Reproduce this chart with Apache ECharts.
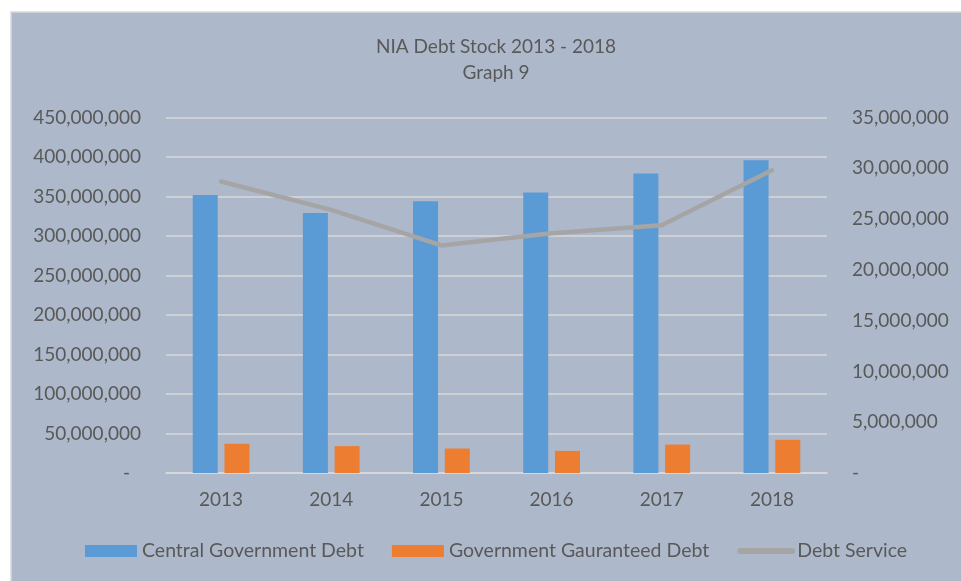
<!DOCTYPE html>
<html>
<head>
<meta charset="utf-8">
<script src="https://cdn.jsdelivr.net/npm/echarts@6/dist/echarts.min.js"></script>
<style>
  html, body { margin: 0; padding: 0; background: #ffffff; }
  #chart { width: 961px; height: 581px; }
</style>
</head>
<body>
<div id="chart"></div>
<script>
// NIA debt stock, 2013 - 2018
const years = ['2013', '2014', '2015', '2016', '2017', '2018'];
const centralGovernmentDebt = [352000000, 329000000, 344000000, 355000000, 379000000, 396000000];
const governmentGuaranteedDebt = [37000000, 34000000, 31000000, 28000000, 36000000, 42000000];
const debtService = [28700000, 25900000, 22400000, 23600000, 24400000, 29800000];

const FONT = 'Lato';
const TEXT = '#595959';

function fmt(v) {
  return v === 0 ? '{z|-}' : Math.round(v).toLocaleString('en-US');
}

const chart = echarts.init(document.getElementById('chart'), null, { renderer: 'canvas' });

chart.setOption({
  animation: false,
  textStyle: { fontFamily: FONT },
  graphic: [{
    type: 'rect',
    z: -10,
    silent: true,
    shape: { x: 11, y: 12, width: 960, height: 580 },
    style: { fill: '#ADB9CA', stroke: '#D9D9D9', lineWidth: 1.5 }
  }],
  title: {
    text: 'NIA Debt Stock 2013 - 2018\nGraph 9',
    left: 491,
    top: 29,
    textAlign: 'center',
    textStyle: { fontFamily: FONT, fontSize: 19, fontWeight: 'normal', color: TEXT, lineHeight: 26 }
  },
  legend: {
    left: 85,
    top: 541,
    padding: 0,
    itemWidth: 52,
    itemHeight: 12,
    itemGap: 28,
    textStyle: { fontFamily: FONT, fontSize: 19.5, color: TEXT },
    lineStyle: { width: 6, cap: 'round' },
    data: [
      { name: 'Central Government Debt', icon: 'rect' },
      { name: 'Government Gauranteed Debt', icon: 'rect' },
      { name: 'Debt Service', itemStyle: { opacity: 0 } }
    ]
  },
  grid: { left: 166, right: 134, top: 117.5, bottom: 108, containLabel: false },
  xAxis: {
    type: 'category',
    data: years,
    axisTick: { show: false },
    axisLine: { lineStyle: { color: '#D9D9D9', width: 1.5 } },
    axisLabel: { color: TEXT, fontFamily: FONT, fontSize: 19, margin: 17 }
  },
  yAxis: [{
    type: 'value',
    min: 0,
    max: 450000000,
    interval: 50000000,
    axisLine: { show: false },
    axisTick: { show: false },
    splitLine: { lineStyle: { color: '#D9D9D9', width: 1.5 } },
    axisLabel: {
      color: TEXT, fontFamily: FONT, fontSize: 19, margin: 25,
      formatter: fmt,
      rich: { z: { color: TEXT, fontFamily: FONT, fontSize: 19, padding: [0, 11, 0, 0] } }
    }
  }, {
    type: 'value',
    min: 0,
    max: 35000000,
    interval: 5000000,
    axisLine: { show: false },
    axisTick: { show: false },
    splitLine: { show: false },
    axisLabel: {
      color: TEXT, fontFamily: FONT, fontSize: 19, margin: 25,
      formatter: fmt,
      rich: { z: { color: TEXT, fontFamily: FONT, fontSize: 19 } }
    }
  }],
  series: [{
    name: 'Central Government Debt',
    type: 'bar',
    data: centralGovernmentDebt,
    barWidth: 25,
    barGap: '27%',
    itemStyle: { color: '#5B9BD5' }
  }, {
    name: 'Government Gauranteed Debt',
    type: 'bar',
    data: governmentGuaranteedDebt,
    barWidth: 25,
    barGap: '27%',
    itemStyle: { color: '#ED7D31' }
  }, {
    name: 'Debt Service',
    type: 'line',
    yAxisIndex: 1,
    data: debtService,
    symbol: 'none',
    lineStyle: { color: '#A5A5A5', width: 4.5, cap: 'round', join: 'round' },
    itemStyle: { color: '#A5A5A5' }
  }]
});
</script>
</body>
</html>
